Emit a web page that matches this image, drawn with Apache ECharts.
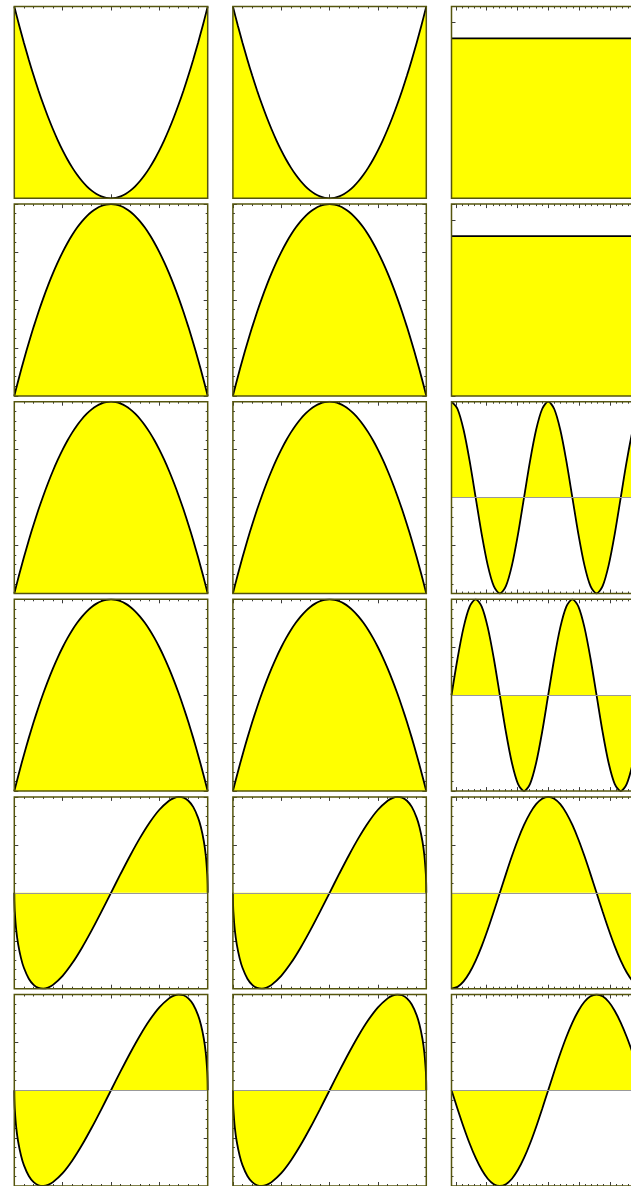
<!DOCTYPE html>
<html>
<head>
<meta charset="utf-8">
<script src="https://cdn.jsdelivr.net/npm/echarts@6/dist/echarts.min.js"></script>
<style>
  html, body { margin: 0; padding: 0; background: #fff; overflow: hidden; }
  /* the third column runs past the right edge of the window */
  #chart { width: 660px; height: 1186px; }
</style>
</head>
<body>
<div id="chart"></div>
<script>
// ---- sample points ----
const xUnit = [-1,-0.95,-0.9,-0.85,-0.8,-0.75,-0.7,-0.65,-0.6,-0.55,-0.5,-0.45,-0.4,-0.35,-0.3,-0.25,-0.2,-0.15,-0.1,-0.05,0,0.05,0.1,0.15,0.2,0.25,0.3,0.35,0.4,0.45,0.5,0.55,0.6,0.65,0.7,0.75,0.8,0.85,0.9,0.95,1];
const ySquare = [1,0.9025,0.81,0.7225,0.64,0.5625,0.49,0.4225,0.36,0.3025,0.25,0.2025,0.16,0.1225,0.09,0.0625,0.04,0.0225,0.01,0.0025,0,0.0025,0.01,0.0225,0.04,0.0625,0.09,0.1225,0.16,0.2025,0.25,0.3025,0.36,0.4225,0.49,0.5625,0.64,0.7225,0.81,0.9025,1];
const yCap = [0,0.0975,0.19,0.2775,0.36,0.4375,0.51,0.5775,0.64,0.6975,0.75,0.7975,0.84,0.8775,0.91,0.9375,0.96,0.9775,0.99,0.9975,1,0.9975,0.99,0.9775,0.96,0.9375,0.91,0.8775,0.84,0.7975,0.75,0.6975,0.64,0.5775,0.51,0.4375,0.36,0.2775,0.19,0.0975,0];

const xEdge = [-1,-0.999,-0.995,-0.98,-0.96,-0.93,-0.9,-0.85,-0.8,-0.75,-0.7,-0.65,-0.6,-0.5,-0.4,-0.3,-0.2,-0.1,0,0.1,0.2,0.3,0.4,0.5,0.6,0.65,0.7,0.75,0.8,0.85,0.9,0.93,0.96,0.98,0.995,0.999,1];
const yArc = [0,-0.0447,-0.0994,-0.195,-0.2688,-0.3418,-0.3923,-0.4478,-0.48,-0.4961,-0.4999,-0.494,-0.48,-0.433,-0.3666,-0.2862,-0.196,-0.0995,0,0.0995,0.196,0.2862,0.3666,0.433,0.48,0.494,0.4999,0.4961,0.48,0.4478,0.3923,0.3418,0.2688,0.195,0.0994,0.0447,0];

const xAngle = [-3.14159,-2.94524,-2.74889,-2.55254,-2.35619,-2.15984,-1.9635,-1.76715,-1.5708,-1.37445,-1.1781,-0.98175,-0.7854,-0.58905,-0.3927,-0.19635,0,0.19635,0.3927,0.58905,0.7854,0.98175,1.1781,1.37445,1.5708,1.76715,1.9635,2.15984,2.35619,2.55254,2.74889,2.94524,3.14159];
const yCosOne = [-1,-0.981,-0.924,-0.831,-0.707,-0.556,-0.383,-0.195,0,0.195,0.383,0.556,0.707,0.831,0.924,0.981,1,0.981,0.924,0.831,0.707,0.556,0.383,0.195,0,-0.195,-0.383,-0.556,-0.707,-0.831,-0.924,-0.981,-1];
const ySinOne = [0,-0.195,-0.383,-0.556,-0.707,-0.831,-0.924,-0.981,-1,-0.981,-0.924,-0.831,-0.707,-0.556,-0.383,-0.195,0,0.195,0.383,0.556,0.707,0.831,0.924,0.981,1,0.981,0.924,0.831,0.707,0.556,0.383,0.195,0];
const yCosTwo = [1,0.924,0.707,0.383,0,-0.383,-0.707,-0.924,-1,-0.924,-0.707,-0.383,0,0.383,0.707,0.924,1,0.924,0.707,0.383,0,-0.383,-0.707,-0.924,-1,-0.924,-0.707,-0.383,0,0.383,0.707,0.924,1];
const ySinTwo = [0,0.383,0.707,0.924,1,0.924,0.707,0.383,0,-0.383,-0.707,-0.924,-1,-0.924,-0.707,-0.383,0,0.383,0.707,0.924,1,0.924,0.707,0.383,0,-0.383,-0.707,-0.924,-1,-0.924,-0.707,-0.383,0];

const xLevel = [-3.14159, 3.14159];
const yLevel = [1, 1];

// ---- tick positions ----
const unitMajor = [-1,-0.5,0,0.5,1];
const unitMinor = [-0.9,-0.8,-0.7,-0.6,-0.4,-0.3,-0.2,-0.1,0.1,0.2,0.3,0.4,0.6,0.7,0.8,0.9];
const angleMajor = [-3,-2,-1,0,1,2,3];
const angleMinor = [-2.8,-2.6,-2.4,-2.2,-1.8,-1.6,-1.4,-1.2,-0.8,-0.6,-0.4,-0.2,0.2,0.4,0.6,0.8,1.2,1.4,1.6,1.8,2.2,2.4,2.6,2.8];
const posMajor = [0,0.25,0.5,0.75,1];
const posMinor = [0.05,0.1,0.15,0.2,0.3,0.35,0.4,0.45,0.55,0.6,0.65,0.7,0.8,0.85,0.9,0.95];
const halfMajor = [-0.5,-0.25,0,0.25,0.5];
const halfMinor = [-0.45,-0.4,-0.35,-0.3,-0.2,-0.15,-0.1,-0.05,0.05,0.1,0.15,0.2,0.3,0.35,0.4,0.45];
const levelMajor = [0,0.1,0.2,0.3,0.4,0.5,0.6,0.7,0.8,0.9,1,1.1,1.2];
const levelMinor = [];

// ---- axis setups ----
const AX_UNIT  = { range: [-1, 1], major: unitMajor, minor: unitMinor };
const AX_ANGLE = { range: [-3.14159, 3.14159], major: angleMajor, minor: angleMinor };
const AY_POS   = { range: [0, 1], major: posMajor, minor: posMinor };
const AY_HALF  = { range: [-0.5, 0.5], major: halfMajor, minor: halfMinor };
const AY_UNIT  = { range: [-1, 1], major: unitMajor, minor: unitMinor };
const AY_LEVEL = { range: [0, 1.2], major: levelMajor, minor: levelMinor };

// 6 rows x 3 columns of panels
const panels = [
  [ {x: xUnit, y: ySquare, ax: AX_UNIT, ay: AY_POS},  {x: xUnit, y: ySquare, ax: AX_UNIT, ay: AY_POS},  {x: xLevel, y: yLevel,  ax: AX_ANGLE, ay: AY_LEVEL} ],
  [ {x: xUnit, y: yCap,    ax: AX_UNIT, ay: AY_POS},  {x: xUnit, y: yCap,    ax: AX_UNIT, ay: AY_POS},  {x: xLevel, y: yLevel,  ax: AX_ANGLE, ay: AY_LEVEL} ],
  [ {x: xUnit, y: yCap,    ax: AX_UNIT, ay: AY_POS},  {x: xUnit, y: yCap,    ax: AX_UNIT, ay: AY_POS},  {x: xAngle, y: yCosTwo, ax: AX_ANGLE, ay: AY_UNIT} ],
  [ {x: xUnit, y: yCap,    ax: AX_UNIT, ay: AY_POS},  {x: xUnit, y: yCap,    ax: AX_UNIT, ay: AY_POS},  {x: xAngle, y: ySinTwo, ax: AX_ANGLE, ay: AY_UNIT} ],
  [ {x: xEdge, y: yArc,    ax: AX_UNIT, ay: AY_HALF}, {x: xEdge, y: yArc,    ax: AX_UNIT, ay: AY_HALF}, {x: xAngle, y: yCosOne, ax: AX_ANGLE, ay: AY_UNIT} ],
  [ {x: xEdge, y: yArc,    ax: AX_UNIT, ay: AY_HALF}, {x: xEdge, y: yArc,    ax: AX_UNIT, ay: AY_HALF}, {x: xAngle, y: ySinOne, ax: AX_ANGLE, ay: AY_UNIT} ]
];

// layout (pixels)
const COL_LEFT0 = 14.3, COL_STEP = 218.6, PANEL_W = 193.4;
const ROW_TOP0 = 6.5, ROW_STEP = 197.6, PANEL_H = 191.8;

const FRAME = '#55550d';
const TICK = '#3c3c3c';

function tickAxis(gridIndex, position, spec, values, len) {
  return {
    type: 'value', gridIndex, position,
    min: spec.range[0], max: spec.range[1],
    axisLine: { show: false, onZero: false },
    axisLabel: { show: false },
    splitLine: { show: false },
    axisTick: { show: true, inside: true, length: len, customValues: values,
                lineStyle: { color: TICK, width: 1 } }
  };
}

const grids = [], xAxes = [], yAxes = [], series = [];

panels.forEach((row, r) => {
  row.forEach((p, c) => {
    const g = grids.length;
    grids.push({
      left: COL_LEFT0 + c * COL_STEP, top: ROW_TOP0 + r * ROW_STEP,
      width: PANEL_W, height: PANEL_H,
      show: true, z: 10, backgroundColor: 'transparent',
      borderColor: FRAME, borderWidth: 1.5
    });
    const xi = xAxes.length, yi = yAxes.length;
    xAxes.push(tickAxis(g, 'bottom', p.ax, p.ax.major, 4));
    xAxes.push(tickAxis(g, 'top',    p.ax, p.ax.major, 4));
    xAxes.push(tickAxis(g, 'bottom', p.ax, p.ax.minor, 2));
    xAxes.push(tickAxis(g, 'top',    p.ax, p.ax.minor, 2));
    yAxes.push(tickAxis(g, 'left',   p.ay, p.ay.major, 4));
    yAxes.push(tickAxis(g, 'right',  p.ay, p.ay.major, 4));
    yAxes.push(tickAxis(g, 'left',   p.ay, p.ay.minor, 2));
    yAxes.push(tickAxis(g, 'right',  p.ay, p.ay.minor, 2));

    const spansZero = p.ay.range[0] < 0;
    series.push({
      type: 'line', xAxisIndex: xi, yAxisIndex: yi,
      data: p.x.map((v, i) => [v, p.y[i]]),
      symbol: 'none', smooth: 0.3, clip: true, z: 2,
      lineStyle: { color: '#000', width: 1.8 },
      areaStyle: { color: '#ffff00', opacity: 1, origin: 0 },
      markLine: spansZero ? {
        silent: true, symbol: 'none', animation: false,
        label: { show: false },
        lineStyle: { color: '#999', width: 1, type: 'solid' },
        data: [{ yAxis: 0 }]
      } : undefined
    });
  });
});

const chart = echarts.init(document.getElementById('chart'), null, { renderer: 'canvas' });
chart.setOption({
  animation: false,
  backgroundColor: '#fff',
  grid: grids,
  xAxis: xAxes,
  yAxis: yAxes,
  series: series
});
</script>
</body>
</html>
